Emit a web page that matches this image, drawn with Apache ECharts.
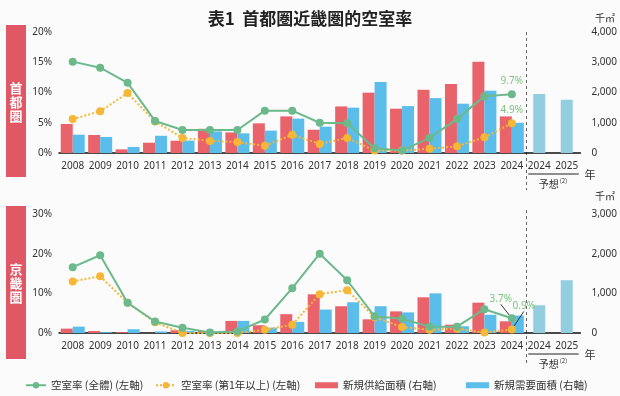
<!DOCTYPE html>
<html>
<head>
<meta charset="utf-8">
<script src="https://cdn.jsdelivr.net/npm/echarts@6/dist/echarts.min.js"></script>
<style>
  html, body { margin: 0; padding: 0; background: #fbfbfb; }
  #main { width: 620px; height: 396px; }
</style>
</head>
<body>
<div id="main"></div>
<script>
// 年（最後の2本は予想）
var years = ['2008', '2009', '2010', '2011', '2012', '2013', '2014', '2015', '2016', '2017',
  '2018', '2019', '2020', '2021', '2022', '2023', '2024', '2024', '2025'];

// 首都圏（千㎡ / %）
var kantoSupply = [960, 595, 120, 340, 405, 800, 680, 980, 1210, 770, 1540, 1995, 1465, 2090, 2280, 3020, 1210, '-', '-'];
var kantoDemand = [605, 530, 200, 570, 410, 715, 650, 740, 1135, 870, 1500, 2345, 1550, 1815, 1630, 2060, 1000, '-', '-'];
var kantoForecast = ['-', '-', '-', '-', '-', '-', '-', '-', '-', '-', '-', '-', '-', '-', '-', '-', '-', 1950, 1760];
var kantoRateAll = [15.1, 14.1, 11.6, 5.3, 3.8, 3.8, 3.8, 7.0, 7.0, 5.0, 4.9, 0.8, 0.4, 2.5, 5.6, 9.4, 9.7];
var kantoRateOld = [5.6, 6.9, 9.9, 5.2, 2.5, 2.0, 1.8, 1.2, 3.0, 1.5, 2.5, 0.4, 0.4, 0.7, 1.1, 2.6, 4.9];

// 京畿圏
var kinkiSupply = [110, 50, 20, 0, 70, 50, 305, 195, 475, 975, 675, 345, 545, 900, 210, 765, 295, '-', '-'];
var kinkiDemand = [160, 20, 95, 40, 50, 35, 305, 135, 280, 590, 775, 675, 520, 1000, 170, 460, 440, '-', '-'];
var kinkiForecast = ['-', '-', '-', '-', '-', '-', '-', '-', '-', '-', '-', '-', '-', '-', '-', '-', '-', 700, 1330];
var kinkiRateAll = [16.6, 19.6, 7.6, 2.9, 1.3, 0.1, 0.4, 3.4, 11.3, 20.0, 13.3, 4.2, 3.6, 1.6, 1.6, 6.0, 3.7];
var kinkiRateOld = [13.0, 14.3, 7.6, 2.7, 0, 0, 0, 0.8, 2.1, 9.8, 10.8, 4.0, 1.5, 0.8, 1.1, 0.1, 0.9];

var NAME_ALL = '空室率 (全體) (左軸)';
var NAME_OLD = '空室率 (第1年以上) (左軸)';
var NAME_SUP = '新規供給面積 (右軸)';
var NAME_DEM = '新規需要面積 (右軸)';

var RED = '#e8636a', BLUE = '#5bbeea', LIGHT = '#93cde0', GREEN = '#6cb98c', ORANGE = '#f6b636';
var FONT = '"Noto Sans CJK JP", "Noto Sans", sans-serif';
var NUM_FONT = '"Noto Sans", sans-serif';

var chart = echarts.init(document.getElementById('main'));

function lastLabel(arr) {
  return arr.map(function (v, i) {
    if (i !== arr.length - 1) return v;
    return { value: v, label: { show: true, position: 'top', distance: 4, color: '#7cc47f', fontSize: 10, fontFamily: NUM_FONT, formatter: '{c}%' } };
  });
}

function xAxes(gi) {
  return [{
    type: 'category', gridIndex: gi, data: years,
    axisLine: { lineStyle: { color: '#111', width: 1.5 } },
    axisTick: { show: false },
    axisLabel: { color: '#333', fontSize: 10, fontFamily: NUM_FONT, margin: 8, interval: 0 }
  }, {
    type: 'category', gridIndex: gi, data: years, show: false
  }];
}

function yAxes(gi, maxPct, pctStep, maxArea) {
  return [{
    type: 'value', gridIndex: gi, min: 0, max: maxPct, interval: pctStep,
    splitLine: { show: false }, axisLine: { show: false }, axisTick: { show: false },
    axisLabel: { color: '#333', fontSize: 10, fontFamily: NUM_FONT, margin: 7, formatter: '{value}%' }
  }, {
    type: 'value', gridIndex: gi, position: 'right', min: 0, max: maxArea, interval: 1000,
    splitLine: { show: false }, axisLine: { show: false }, axisTick: { show: false },
    axisLabel: { color: '#333', fontSize: 10, fontFamily: NUM_FONT, margin: 11 }
  }];
}

function panel(p, supply, demand, forecast, rateAll, rateOld, layAll, layOld) {
  var xi = p * 2, yi = p * 2;
  var lineAll = {
    name: NAME_ALL, type: 'line', xAxisIndex: xi, yAxisIndex: yi, data: lastLabel(rateAll),
    symbol: 'circle', symbolSize: 8, z: 4,
    lineStyle: { color: GREEN, width: 2 }, itemStyle: { color: GREEN }
  };
  var lineOld = {
    name: NAME_OLD, type: 'line', xAxisIndex: xi, yAxisIndex: yi, data: lastLabel(rateOld),
    symbol: 'circle', symbolSize: 8, z: 3,
    lineStyle: { color: ORANGE, width: 2, type: 'dotted' }, itemStyle: { color: ORANGE }
  };
  if (layAll) {
    lineAll.labelLayout = function (q) { if (q.dataIndex === rateAll.length - 1) return layAll; };
    lineAll.labelLine = { show: true, lineStyle: { color: '#333', width: 1 } };
    lineOld.labelLayout = function (q) { if (q.dataIndex === rateOld.length - 1) return layOld; };
    lineOld.labelLine = { show: true, lineStyle: { color: '#333', width: 1 } };
  }
  return [
    { name: NAME_SUP, type: 'bar', xAxisIndex: xi, yAxisIndex: yi + 1, data: supply, barWidth: 12, barGap: 0, itemStyle: { color: RED } },
    { name: NAME_DEM, type: 'bar', xAxisIndex: xi, yAxisIndex: yi + 1, data: demand, barWidth: 12, barGap: 0, itemStyle: { color: BLUE } },
    { name: 'forecast', type: 'bar', xAxisIndex: xi + 1, yAxisIndex: yi + 1, data: forecast, barWidth: 12, itemStyle: { color: LIGHT } },
    lineOld,
    lineAll
  ];
}

function legendAt(name, left, isLine) {
  return {
    data: [name], left: left, top: 375, icon: isLine ? undefined : 'rect',
    itemWidth: isLine ? 20 : 23, itemHeight: isLine ? 8 : 6, itemGap: 0,
    textStyle: { color: '#333', fontSize: 10.5, fontFamily: FONT },
    selectedMode: false
  };
}

chart.setOption({
  backgroundColor: '#fbfbfb',
  animation: false,
  title: {
    text: '表1  首都圏近畿圏的空室率', left: 'center', top: 5,
    textStyle: { fontSize: 17, fontWeight: 'bold', color: '#222', fontFamily: FONT }
  },
  legend: [
    legendAt(NAME_ALL, 20, true),
    legendAt(NAME_OLD, 150, true),
    legendAt(NAME_SUP, 310, false),
    legendAt(NAME_DEM, 461, false)
  ],
  grid: [
    { left: 59, right: 36, top: 32, height: 121 },
    { left: 59, right: 36, top: 214, height: 119 }
  ],
  xAxis: xAxes(0).concat(xAxes(1)),
  yAxis: yAxes(0, 20, 5, 4000).concat(yAxes(1, 30, 10, 3000)),
  series: panel(0, kantoSupply, kantoDemand, kantoForecast, kantoRateAll, kantoRateOld)
    .concat(panel(1, kinkiSupply, kinkiDemand, kinkiForecast, kinkiRateAll, kinkiRateOld,
      { dx: -11, dy: -6 }, { dx: 12, dy: -10 }))
});

// 装飾: 区切り線・予想ラベル・単位・左側の地域名
function decor() {
  var g = [];
  [[0, 32, 190, 25, 152, '首\n都\n圏'], [2, 210, 364, 206, 153, '京\n畿\n圏']].forEach(function (d) {
    var c16 = chart.convertToPixel({ xAxisIndex: d[0] }, 16);
    var c17 = chart.convertToPixel({ xAxisIndex: d[0] }, 17);
    var c18 = chart.convertToPixel({ xAxisIndex: d[0] }, 18);
    var base = chart.convertToPixel({ yAxisIndex: d[0] }, 0);
    var sepX = Math.round((c16 + c17) / 2) + 0.5;
    g.push({ type: 'line', silent: true, shape: { x1: sepX, y1: d[1], x2: sepX, y2: d[2] },
      style: { stroke: '#666', lineWidth: 1, lineDash: [3, 3] } });
    var uy = base + 21;
    g.push({ type: 'line', silent: true, shape: { x1: c17 - 11, y1: uy, x2: c18 + 12, y2: uy },
      style: { stroke: '#222', lineWidth: 1 } });
    g.push({ type: 'text', silent: true, x: (c17 + c18) / 2, y: uy + 10, style: {
      text: '{a|予想}{b|(2)}', align: 'center', verticalAlign: 'middle',
      rich: { a: { fontSize: 10, fontFamily: FONT, fill: '#333' }, b: { fontSize: 6, fontFamily: FONT, fill: '#333', verticalAlign: 'top', padding: [0, 0, 6, 1] } }
    } });
    g.push({ type: 'text', silent: true, x: 590, y: uy + 1, style: {
      text: '年', align: 'center', verticalAlign: 'middle', fontSize: 11, fontFamily: FONT, fill: '#333' } });
    g.push({ type: 'text', silent: true, x: 605, y: d[1] - 14, style: {
      text: '千㎡', align: 'center', verticalAlign: 'middle', fontSize: 10, fontFamily: FONT, fill: '#333' } });
    g.push({ type: 'rect', silent: true, shape: { x: 6, y: d[3], width: 20, height: d[4] }, style: { fill: '#e05766' } });
    g.push({ type: 'text', silent: true, x: 16, y: d[3] + d[4] / 2 + 1, style: {
      text: d[5], align: 'center', verticalAlign: 'middle', lineHeight: 14,
      fontSize: 13, fontWeight: 'bold', fontFamily: FONT, fill: '#fff' } });
  });
  chart.setOption({ graphic: g });
}
decor();
</script>
</body>
</html>
